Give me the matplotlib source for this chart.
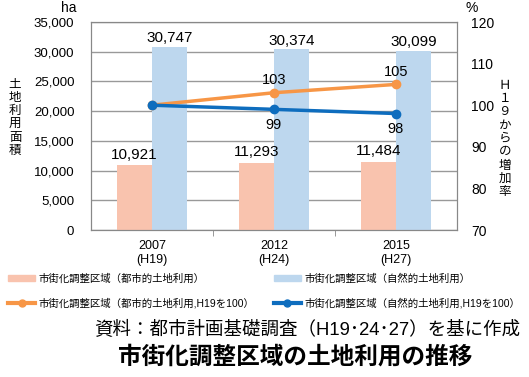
import matplotlib.pyplot as plt
import numpy as np
from matplotlib.patches import Patch
from matplotlib.lines import Line2D

plt.rcParams['font.family'] = ['Liberation Sans', 'Noto Sans CJK JP', 'DejaVu Sans']

years = ['2007\n(H19)', '2012\n(H24)', '2015\n(H27)']
urban_area = [10921, 11293, 11484]
natural_area = [30747, 30374, 30099]
urban_index = [100, 103, 105]
natural_index = [100, 99, 98]

c_urban_bar = '#F9C3AE'
c_natural_bar = '#BDD7EE'
c_urban_line = '#F79646'
c_natural_line = '#0E6DBE'

fig = plt.figure(figsize=(5.29, 3.77), dpi=100)
ax = fig.add_axes([91 / 529, 1 - 230 / 377, 366 / 529, 208 / 377])
ax2 = ax.twinx()

x = np.arange(len(years))
w = 0.29
ax.bar(x - w / 2, urban_area, w, color=c_urban_bar, zorder=2)
ax.bar(x + w / 2, natural_area, w, color=c_natural_bar, zorder=2)
for i in range(len(x)):
    ax.text(x[i] - w / 2, urban_area[i] + 600, f'{urban_area[i]:,}', ha='center', va='bottom', fontsize=11)
    ax.text(x[i] + w / 2, natural_area[i] + 300, f'{natural_area[i]:,}', ha='center', va='bottom', fontsize=11)

ax.set_xlim(-0.5, 2.5)
ax.set_ylim(0, 35000)
ax.set_yticks(range(0, 35001, 5000))
ax.set_yticklabels([f'{v:,}' for v in range(0, 35001, 5000)], fontsize=9.5)
ax.set_xticks(x)
ax.set_xticklabels(years, fontsize=9)
ax.set_xticks([0.5, 1.5], minor=True)
ax.tick_params(axis='x', which='major', length=0, pad=7)
ax.tick_params(axis='x', which='minor', length=4, color='#888888')
ax.tick_params(axis='y', length=0, pad=12)
ax.grid(axis='y', color='#999999', linewidth=1, zorder=0)
ax.set_axisbelow(True)
for s in ax.spines.values():
    s.set_color('#888888')

ax2.plot(x, urban_index, color=c_urban_line, lw=2.5, marker='o', ms=6, zorder=3)
ax2.plot(x, natural_index, color=c_natural_line, lw=2.5, marker='o', ms=6, zorder=3)
for i in range(1, len(x)):
    ax2.text(x[i], urban_index[i] + 1.3, str(urban_index[i]), ha='center', va='bottom', fontsize=10.5)
    ax2.text(x[i], natural_index[i] - 2.0, str(natural_index[i]), ha='center', va='top', fontsize=10.5)
ax2.set_ylim(70, 120)
ax2.set_yticks(range(70, 121, 10))
ax2.tick_params(axis='y', length=0, labelsize=10, pad=10)
for s in ax2.spines.values():
    s.set_color('#888888')

fig.text(77 / 529, 1 - 8 / 377, 'ha', fontsize=10, ha='right', va='center')
fig.text(465 / 529, 1 - 8 / 377, '%', fontsize=10, ha='left', va='center')
fig.text(15 / 529, 1 - 118 / 377, '\n'.join('土地利用面積'), fontsize=9, ha='center', va='center', linespacing=1.15)
fig.text(505 / 529, 1 - 139 / 377, '\n'.join(['Ｈ', '１', '９', 'か', 'ら', 'の', '増', '加', '率']),
         fontsize=9, ha='center', va='center', linespacing=1.15)

handles = [
    Patch(color=c_urban_bar, label='市街化調整区域（都市的土地利用）'),
    Line2D([], [], color=c_urban_line, lw=3, marker='o', ms=5, label='市街化調整区域（都市的土地利用,H19を100）'),
    Patch(color=c_natural_bar, label='市街化調整区域（自然的土地利用）'),
    Line2D([], [], color=c_natural_line, lw=3, marker='o', ms=5, label='市街化調整区域（自然的土地利用,H19を100）'),
]
fig.legend(handles=handles, ncol=2, loc='center left', bbox_to_anchor=(8 / 529, 1 - 291 / 377), frameon=False,
           fontsize=7.5, handlelength=2.6, handleheight=0.5, columnspacing=1.9, handletextpad=0.3,
           labelspacing=1.3, borderpad=0, borderaxespad=0)

fig.text(520 / 529, 1 - 330 / 377, '資料：都市計画基礎調査（H19･24･27）を基に作成', fontsize=13.3, ha='right', va='center')
fig.text(295 / 529, 1 - 357 / 377, '市街化調整区域の土地利用の推移', fontsize=17, fontweight='bold', ha='center', va='center')

fig.savefig('out.png', dpi=100)
